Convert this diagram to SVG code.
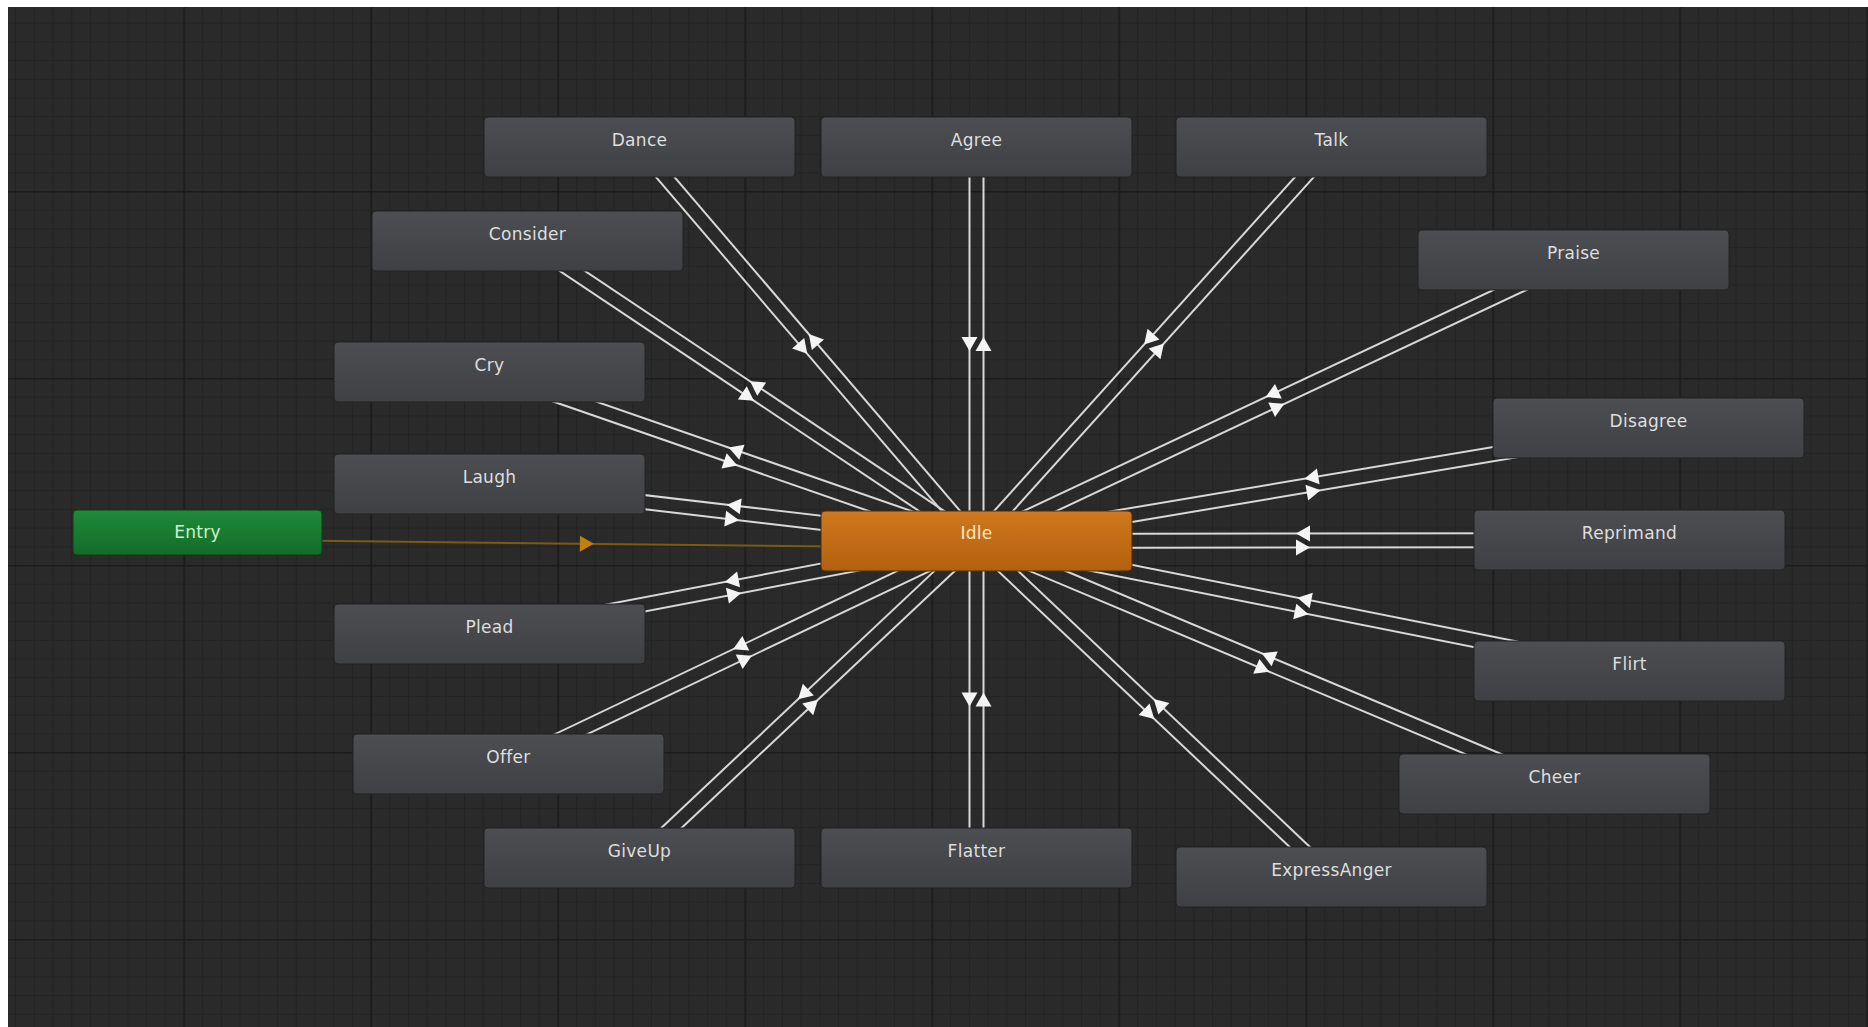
<svg xmlns="http://www.w3.org/2000/svg" xmlns:xlink="http://www.w3.org/1999/xlink" width="1868" height="1027" viewBox="0 0 1868 1027">
<style>
.conn line{stroke:#d8d8d8;stroke-width:2;fill:none}
.conn line.entryline{stroke:#7a5a14;stroke-width:2}
.arrow{fill:#f4f4f4}
.entryarrow{fill:#c17f12}
.node rect{fill:url(#gGray);stroke:#232323;stroke-width:1}
.node text{font-family:"DejaVu Sans","Noto Sans",sans-serif;font-size:17px;fill:#dedede;text-anchor:middle;letter-spacing:0.3px}
#node-idle rect{fill:url(#gOrange);stroke:#4a2a08}
#node-idle text{fill:#ffe6c2}
#node-entry rect{fill:url(#gGreen);stroke:#0d3d18}
#node-entry text{fill:#cdf3cd}
</style>
<defs>
<linearGradient id="gGray" x1="0" y1="0" x2="0" y2="1">
<stop offset="0" stop-color="#4c4e52"/><stop offset="1" stop-color="#3e4044"/>
</linearGradient>
<linearGradient id="gOrange" x1="0" y1="0" x2="0" y2="1">
<stop offset="0" stop-color="#cf781e"/><stop offset="1" stop-color="#b3600f"/>
</linearGradient>
<linearGradient id="gGreen" x1="0" y1="0" x2="0" y2="1">
<stop offset="0" stop-color="#1f8a38"/><stop offset="1" stop-color="#136c29"/>
</linearGradient>
<pattern id="minor" x="-3.5" y="4" width="18.7" height="18.7" patternUnits="userSpaceOnUse">
<path d="M0 0.5H18.7M0.5 0V18.7" stroke="#232323" stroke-width="1" fill="none"/>
</pattern>
<pattern id="major" x="-3.5" y="4" width="187" height="187" patternUnits="userSpaceOnUse">
<path d="M0 0.75H187M0.75 0V187" stroke="#1b1b1b" stroke-width="1.5" fill="none"/>
</pattern>
<path id="arrR" class="arrow" d="M7 0L-7 -8L-7 8Z"/>
<path id="arrL" class="arrow" d="M-7 0L7 -8L7 8Z"/>
</defs>

<rect x="0" y="0" width="1868" height="1027" fill="#ffffff"/>
<rect x="8" y="7" width="1860" height="1020" fill="#2a2a2a"/>
<rect x="8" y="7" width="1860" height="1020" fill="url(#minor)"/>
<rect x="8" y="7" width="1860" height="1020" fill="url(#major)"/>

<g id="connectors" class="conn">
<g id="c-entry" transform="translate(197.5 532.5) rotate(0.625)">
<line class="entryline" x1="0" y1="7" x2="779" y2="7"/>
<path class="entryarrow" d="M396.5 7L382.5 -1L382.5 15Z"/>
</g>
<g id="c-dance" transform="translate(639.5 147) rotate(49.45)">
<line x1="0" y1="7" x2="518.5" y2="7"/><line x1="0" y1="-7" x2="518.5" y2="-7"/>
<use href="#arrR" x="259.25" y="7"/><use href="#arrL" x="259.25" y="-7"/>
</g>
<g id="c-agree" transform="translate(976.5 147) rotate(90)">
<line x1="0" y1="7" x2="394" y2="7"/><line x1="0" y1="-7" x2="394" y2="-7"/>
<use href="#arrR" x="197" y="7"/><use href="#arrL" x="197" y="-7"/>
</g>
<g id="c-talk" transform="translate(1331.5 147) rotate(132.02)">
<line x1="0" y1="7" x2="530.3" y2="7"/><line x1="0" y1="-7" x2="530.3" y2="-7"/>
<use href="#arrR" x="265.15" y="7"/><use href="#arrL" x="265.15" y="-7"/>
</g>
<g id="c-consider" transform="translate(527.5 241) rotate(33.75)">
<line x1="0" y1="7" x2="540" y2="7"/><line x1="0" y1="-7" x2="540" y2="-7"/>
<use href="#arrR" x="270" y="7"/><use href="#arrL" x="270" y="-7"/>
</g>
<g id="c-praise" transform="translate(1573.5 260) rotate(154.8)">
<line x1="0" y1="7" x2="659.8" y2="7"/><line x1="0" y1="-7" x2="659.8" y2="-7"/>
<use href="#arrR" x="329.9" y="7"/><use href="#arrL" x="329.9" y="-7"/>
</g>
<g id="c-cry" transform="translate(489.5 372) rotate(19.14)">
<line x1="0" y1="7" x2="515.5" y2="7"/><line x1="0" y1="-7" x2="515.5" y2="-7"/>
<use href="#arrR" x="257.75" y="7"/><use href="#arrL" x="257.75" y="-7"/>
</g>
<g id="c-disagree" transform="translate(1648.5 428) rotate(170.45)">
<line x1="0" y1="7" x2="681.4" y2="7"/><line x1="0" y1="-7" x2="681.4" y2="-7"/>
<use href="#arrR" x="340.7" y="7"/><use href="#arrL" x="340.7" y="-7"/>
</g>
<g id="c-laugh" transform="translate(489.5 484) rotate(6.68)">
<line x1="0" y1="7" x2="490.3" y2="7"/><line x1="0" y1="-7" x2="490.3" y2="-7"/>
<use href="#arrR" x="245.15" y="7"/><use href="#arrL" x="245.15" y="-7"/>
</g>
<g id="c-reprimand" transform="translate(1629.5 540) rotate(179.91)">
<line x1="0" y1="7" x2="653" y2="7"/><line x1="0" y1="-7" x2="653" y2="-7"/>
<use href="#arrR" x="326.5" y="7"/><use href="#arrL" x="326.5" y="-7"/>
</g>
<g id="c-plead" transform="translate(489.5 634) rotate(-10.81)">
<line x1="0" y1="7" x2="495.8" y2="7"/><line x1="0" y1="-7" x2="495.8" y2="-7"/>
<use href="#arrR" x="247.9" y="7"/><use href="#arrL" x="247.9" y="-7"/>
</g>
<g id="c-flirt" transform="translate(1629.5 671) rotate(-168.74)">
<line x1="0" y1="7" x2="665.8" y2="7"/><line x1="0" y1="-7" x2="665.8" y2="-7"/>
<use href="#arrR" x="332.9" y="7"/><use href="#arrL" x="332.9" y="-7"/>
</g>
<g id="c-offer" transform="translate(508.5 764) rotate(-25.48)">
<line x1="0" y1="7" x2="518.4" y2="7"/><line x1="0" y1="-7" x2="518.4" y2="-7"/>
<use href="#arrR" x="259.2" y="7"/><use href="#arrL" x="259.2" y="-7"/>
</g>
<g id="c-cheer" transform="translate(1554.5 784) rotate(-157.2)">
<line x1="0" y1="7" x2="627" y2="7"/><line x1="0" y1="-7" x2="627" y2="-7"/>
<use href="#arrR" x="313.5" y="7"/><use href="#arrL" x="313.5" y="-7"/>
</g>
<g id="c-giveup" transform="translate(639.5 858) rotate(-43.25)">
<line x1="0" y1="7" x2="462.7" y2="7"/><line x1="0" y1="-7" x2="462.7" y2="-7"/>
<use href="#arrR" x="231.35" y="7"/><use href="#arrL" x="231.35" y="-7"/>
</g>
<g id="c-flatter" transform="translate(976.5 858) rotate(-90)">
<line x1="0" y1="7" x2="317" y2="7"/><line x1="0" y1="-7" x2="317" y2="-7"/>
<use href="#arrR" x="158.5" y="7"/><use href="#arrL" x="158.5" y="-7"/>
</g>
<g id="c-expressanger" transform="translate(1331.5 877) rotate(-136.58)">
<line x1="0" y1="7" x2="488.8" y2="7"/><line x1="0" y1="-7" x2="488.8" y2="-7"/>
<use href="#arrR" x="244.4" y="7"/><use href="#arrL" x="244.4" y="-7"/>
</g>
</g>

<g id="node-entry" class="node"><rect x="73" y="510" width="249" height="45" rx="4"/><text x="197.5" y="538">Entry</text></g>
<g id="node-idle" class="node"><rect x="821" y="511" width="311" height="60" rx="4"/><text x="976.5" y="539">Idle</text></g>
<g id="node-dance" class="node"><rect x="484" y="117" width="311" height="60" rx="4"/><text x="639.5" y="146">Dance</text></g>
<g id="node-agree" class="node"><rect x="821" y="117" width="311" height="60" rx="4"/><text x="976.5" y="146">Agree</text></g>
<g id="node-talk" class="node"><rect x="1176" y="117" width="311" height="60" rx="4"/><text x="1331.5" y="146">Talk</text></g>
<g id="node-consider" class="node"><rect x="372" y="211" width="311" height="60" rx="4"/><text x="527.5" y="240">Consider</text></g>
<g id="node-praise" class="node"><rect x="1418" y="230" width="311" height="60" rx="4"/><text x="1573.5" y="259">Praise</text></g>
<g id="node-cry" class="node"><rect x="334" y="342" width="311" height="60" rx="4"/><text x="489.5" y="371">Cry</text></g>
<g id="node-disagree" class="node"><rect x="1493" y="398" width="311" height="60" rx="4"/><text x="1648.5" y="427">Disagree</text></g>
<g id="node-laugh" class="node"><rect x="334" y="454" width="311" height="60" rx="4"/><text x="489.5" y="483">Laugh</text></g>
<g id="node-reprimand" class="node"><rect x="1474" y="510" width="311" height="60" rx="4"/><text x="1629.5" y="539">Reprimand</text></g>
<g id="node-plead" class="node"><rect x="334" y="604" width="311" height="60" rx="4"/><text x="489.5" y="633">Plead</text></g>
<g id="node-flirt" class="node"><rect x="1474" y="641" width="311" height="60" rx="4"/><text x="1629.5" y="670">Flirt</text></g>
<g id="node-offer" class="node"><rect x="353" y="734" width="311" height="60" rx="4"/><text x="508.5" y="763">Offer</text></g>
<g id="node-cheer" class="node"><rect x="1399" y="754" width="311" height="60" rx="4"/><text x="1554.5" y="783">Cheer</text></g>
<g id="node-giveup" class="node"><rect x="484" y="828" width="311" height="60" rx="4"/><text x="639.5" y="857">GiveUp</text></g>
<g id="node-flatter" class="node"><rect x="821" y="828" width="311" height="60" rx="4"/><text x="976.5" y="857">Flatter</text></g>
<g id="node-expressanger" class="node"><rect x="1176" y="847" width="311" height="60" rx="4"/><text x="1331.5" y="876">ExpressAnger</text></g>
</svg>
